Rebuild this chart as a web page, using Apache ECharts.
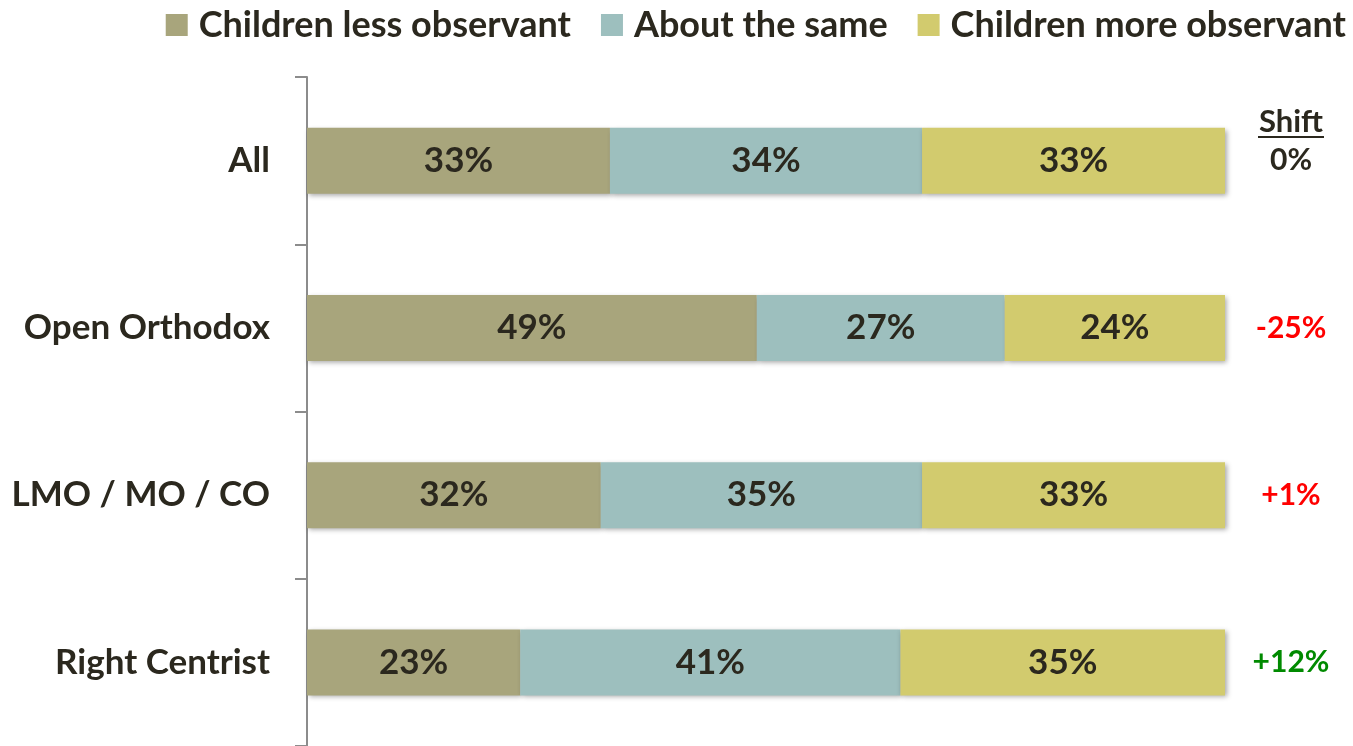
<!DOCTYPE html>
<html>
<head>
<meta charset="utf-8">
<script src="https://cdn.jsdelivr.net/npm/echarts@6/dist/echarts.min.js"></script>
<style>html,body{margin:0;padding:0;background:#fff;}#c{width:1353px;height:746px;}</style>
</head>
<body>
<div id="c"></div>
<script>
const categories = ['All', 'Open Orthodox', 'LMO / MO / CO', 'Right Centrist'];
const seriesNames = ['Children less observant', 'About the same', 'Children more observant'];
const lessObservant = [33, 49, 32, 23];
const aboutSame = [34, 27, 35, 41];
const moreObservant = [33, 24, 33, 35];
const shiftLabels = ['0%', '-25%', '+1%', '+12%'];
const shiftColors = ['#2B281E', '#FF0000', '#FF0000', '#008A00'];
const colors = ['#A8A57C', '#9DBFBE', '#D2CB6E'];

const FONT = 'Lato';
const TXT = '#2B281E';
const raw = [lessObservant, aboutSame, moreObservant];
const totals = categories.map((_, i) => raw[0][i] + raw[1][i] + raw[2][i]);

const chart = echarts.init(document.getElementById('c'));
const series = raw.map((arr, s) => ({
  name: seriesNames[s],
  type: 'bar',
  stack: 'total',
  barWidth: 66,
  itemStyle: {
    color: colors[s],
    shadowColor: 'rgba(0,0,0,0.35)',
    shadowBlur: 5,
    shadowOffsetX: 2,
    shadowOffsetY: 2
  },
  label: {
    show: true,
    position: 'inside',
    fontFamily: FONT,
    fontWeight: 'bold',
    fontSize: 35,
    color: TXT,
    formatter: p => arr[p.dataIndex] + '%'
  },
  data: arr.map((v, i) => v / totals[i] * 100)
}));

chart.setOption({
  animation: false,
  legend: {
    right: 2,
    top: 2,
    itemWidth: 22,
    itemHeight: 22,
    itemGap: 30,
    icon: 'rect',
    textStyle: { fontFamily: FONT, fontWeight: 'bold', fontSize: 36, color: TXT, padding: [0, 0, 0, 6] },
    data: seriesNames
  },
  grid: { left: 307, top: 77, width: 918, height: 670 },
  xAxis: { type: 'value', min: 0, max: 100, show: false },
  yAxis: {
    type: 'category',
    inverse: true,
    data: categories,
    axisLine: { lineStyle: { color: '#8C8C8C', width: 2 } },
    axisTick: { show: true, length: 12, lineStyle: { color: '#8C8C8C', width: 2 } },
    axisLabel: { margin: 37, fontFamily: FONT, fontWeight: 'bold', fontSize: 35, color: TXT }
  },
  series: series
});

const graphics = [{
  type: 'text',
  x: 1291, y: 122,
  style: { text: 'Shift', fontFamily: FONT, fontWeight: 'bold', fontSize: 31, fill: TXT, align: 'center', verticalAlign: 'middle' }
}, {
  type: 'line',
  shape: { x1: 1258, y1: 137, x2: 1324, y2: 137 },
  style: { stroke: TXT, lineWidth: 2 }
}];
categories.forEach((c, i) => {
  const y = chart.convertToPixel({ yAxisIndex: 0 }, c);
  graphics.push({
    type: 'text',
    x: 1291, y: y,
    style: { text: shiftLabels[i], fontFamily: FONT, fontWeight: 'bold', fontSize: 30, fill: shiftColors[i], align: 'center', verticalAlign: 'middle' }
  });
});
chart.setOption({ graphic: graphics });
</script>
</body>
</html>
